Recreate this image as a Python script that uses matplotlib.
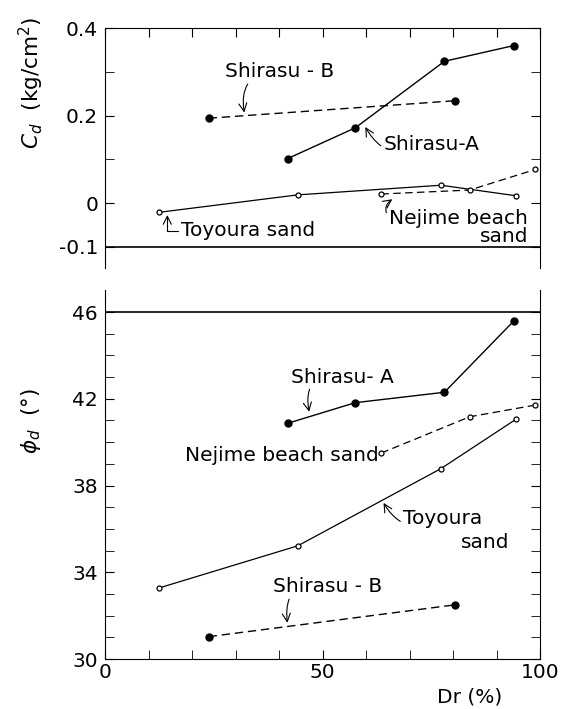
import matplotlib

matplotlib.use("Agg")
import matplotlib.pyplot as plt

shirasu_a_dr = [42, 57.5, 78, 94]
shirasu_a_cd = [0.102, 0.172, 0.324, 0.36]
shirasu_a_phi = [40.87, 41.82, 42.3, 45.6]

shirasu_b_dr = [23.8, 80.5]
shirasu_b_cd = [0.194, 0.234]
shirasu_b_phi = [31.03, 32.5]

toyoura_dr = [12.3, 44.3, 77.2, 94.4]
toyoura_cd = [-0.021, 0.019, 0.041, 0.017]
toyoura_phi = [33.27, 35.22, 38.78, 41.05]

nejime_dr = [63.5, 83.8, 98.9]
nejime_cd = [0.021, 0.030, 0.077]
nejime_phi = [39.5, 41.17, 41.71]

FS = 14.5
DASH = (6, 3.5)
TICKLEN = 6.5

plt.rcParams["font.family"] = ["DejaVu Sans"]
fig = plt.figure(figsize=(5.71, 7.09), dpi=100)

# ---- top panel: cohesion ----
ax1 = fig.add_axes([0.184, 0.622, 0.762, 0.3385])
ax1.plot(shirasu_a_dr, shirasu_a_cd, "-", color="k", lw=1.0,
         marker="o", ms=5, mfc="k", mec="k")
ax1.plot(shirasu_b_dr, shirasu_b_cd, color="k", lw=1.0, dashes=DASH,
         marker="o", ms=5, mfc="k", mec="k")
ax1.plot(toyoura_dr, toyoura_cd, "-", color="k", lw=0.9,
         marker="o", ms=3.6, mfc="white", mec="k", mew=0.9)
ax1.plot(nejime_dr, nejime_cd, color="k", lw=0.9, dashes=DASH,
         marker="o", ms=3.6, mfc="white", mec="k", mew=0.9)
ax1.axhline(-0.1, color="k", lw=1.2)

ax1.set_xlim(0, 100)
ax1.set_ylim(-0.148, 0.4)
ax1.spines["bottom"].set_visible(False)
ax1.set_xticks(range(0, 101, 10))
ax1.set_yticks([-0.1, 0, 0.2, 0.4])
ax1.set_yticklabels(["-0.1", "0", "0.2", "0.4"])
ax1.set_yticks([0.1, 0.3], minor=True)
ax1.tick_params(axis="x", which="both", bottom=False, top=True,
                labelbottom=False, direction="in", length=TICKLEN)
ax1.tick_params(axis="y", which="both", left=True, right=True,
                direction="in", length=TICKLEN, labelsize=FS, pad=5)

arrow = dict(arrowstyle="->", color="k", lw=0.8, shrinkA=0, shrinkB=0)
ax1.annotate("Shirasu - B", xy=(32, 0.207), xytext=(27.5, 0.30),
             fontsize=FS, va="center", ha="left",
             arrowprops=dict(arrow, connectionstyle="arc3,rad=0.6"))
ax1.annotate("Shirasu-A", xy=(59.8, 0.174), xytext=(64, 0.133),
             fontsize=FS, va="center", ha="left",
             arrowprops=dict(arrow, connectionstyle="arc3,rad=-0.5"))
ax1.annotate("Toyoura sand", xy=(14.3, -0.027), xytext=(17.5, -0.063),
             fontsize=FS, va="center", ha="left",
             arrowprops=dict(arrow, connectionstyle="angle,angleA=180,angleB=90,rad=0"))
ax1.annotate("Nejime beach\nsand", xy=(66, 0.009), xytext=(97.2, -0.055),
             fontsize=FS, va="center", ha="right", multialignment="right",
             linespacing=0.9,
             arrowprops=dict(arrow, relpos=(0.0, 0.75),
                             connectionstyle="arc3,rad=-0.5"))

# ---- bottom panel: friction angle ----
ax2 = fig.add_axes([0.184, 0.0705, 0.762, 0.52])
ax2.plot(shirasu_a_dr, shirasu_a_phi, "-", color="k", lw=1.0,
         marker="o", ms=5, mfc="k", mec="k")
ax2.plot(shirasu_b_dr, shirasu_b_phi, color="k", lw=1.0, dashes=DASH,
         marker="o", ms=5, mfc="k", mec="k")
ax2.plot(toyoura_dr, toyoura_phi, "-", color="k", lw=0.9,
         marker="o", ms=3.6, mfc="white", mec="k", mew=0.9)
ax2.plot(nejime_dr, nejime_phi, color="k", lw=0.9, dashes=DASH,
         marker="o", ms=3.6, mfc="white", mec="k", mew=0.9)
ax2.axhline(46, color="k", lw=1.2)

ax2.set_xlim(0, 100)
ax2.set_ylim(30, 47.0)
ax2.spines["top"].set_visible(False)
ax2.set_xticks([0, 50, 100])
ax2.set_xticks(range(10, 100, 10), minor=True)
ax2.set_yticks([30, 34, 38, 42, 46])
ax2.set_yticks(range(31, 46), minor=True)
ax2.tick_params(axis="x", which="both", direction="in", length=TICKLEN,
                labelsize=FS, pad=3)
ax2.tick_params(axis="y", which="both", left=True, right=True,
                direction="in", length=TICKLEN, labelsize=FS, pad=5)

ax2.annotate("Shirasu- A", xy=(46.9, 41.4), xytext=(42.7, 43.0),
             fontsize=FS, va="center", ha="left",
             arrowprops=dict(arrow, connectionstyle="arc3,rad=0.7"))
ax2.text(62.8, 39.4, "Nejime beach sand", fontsize=FS, va="center", ha="right")
ax2.annotate("Toyoura", xy=(64, 37.2), xytext=(68.5, 36.5),
             fontsize=FS, va="center", ha="left",
             arrowprops=dict(arrow, connectionstyle="arc3,rad=-0.5"))
ax2.text(81.7, 35.37, "sand", fontsize=FS, va="center", ha="left")
ax2.annotate("Shirasu - B", xy=(41.9, 31.67), xytext=(38.5, 33.33),
             fontsize=FS, va="center", ha="left",
             arrowprops=dict(arrow, connectionstyle="arc3,rad=0.7"))

# axis titles
fig.text(0.055, 0.883, r"$C_d$  (kg/cm$^2$)", rotation=90, fontsize=15.5,
         ha="center", va="center")
fig.text(0.055, 0.406, r"$\phi_d$  (°)", rotation=90, fontsize=15.5,
         ha="center", va="center")
fig.text(0.823, 0.017, "Dr (%)", fontsize=FS, ha="center", va="center")

fig.savefig("out.png", dpi=100)
